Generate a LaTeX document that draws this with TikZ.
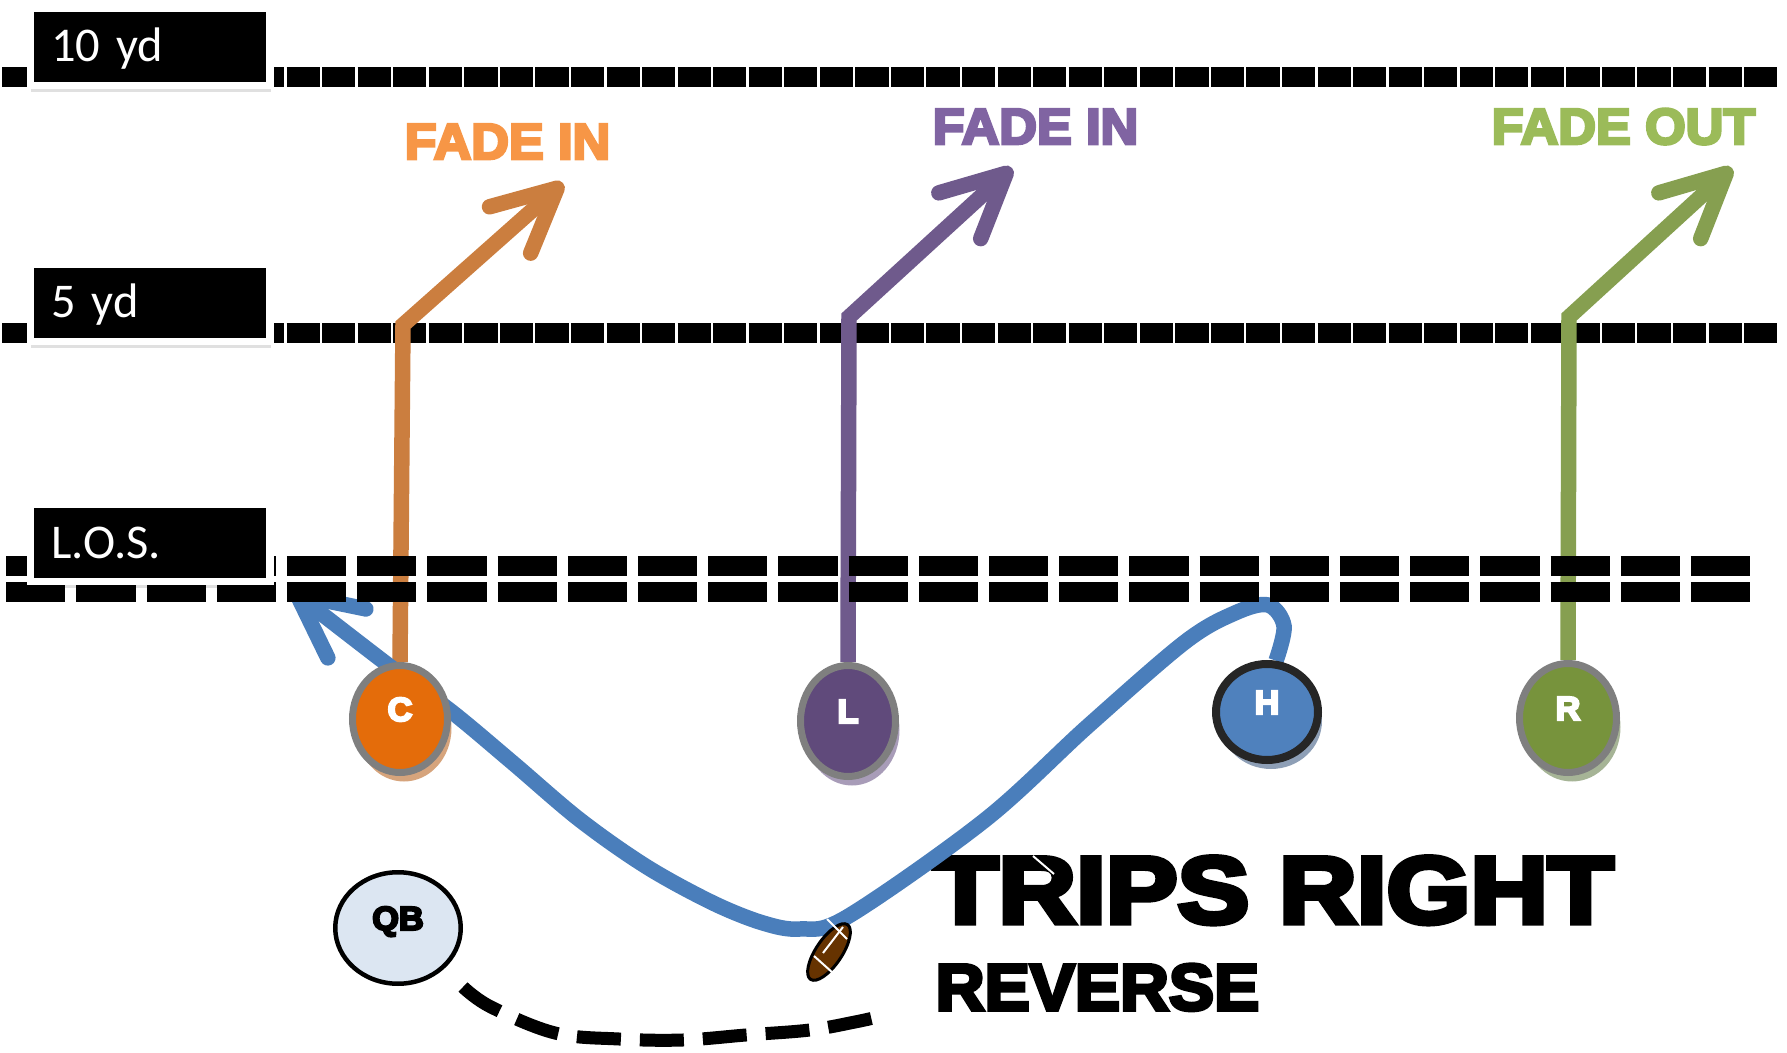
\documentclass[tikz,border=0pt]{standalone}
\usepackage{fontspec}
\setmainfont{Carlito}
\newfontfamily\heavyfont{Liberation Sans Bold}[FakeStretch=1.03]
\newcommand\thick[2]{\special{pdf:literal direct 2 Tr #1 w}#2\special{pdf:literal direct 0 Tr}}
\usetikzlibrary{shapes.geometric,arrows.meta,shadows}

\definecolor{bordergray}{HTML}{7F7F7F}
\definecolor{Ctext}{HTML}{F79646}
\definecolor{Croute}{HTML}{CB7E3F}
\definecolor{Cfill}{HTML}{E46C0A}
\definecolor{Cshade}{HTML}{D6A47C}
\definecolor{Ltext}{HTML}{8064A2}
\definecolor{Lroute}{HTML}{6F5A8C}
\definecolor{Lfill}{HTML}{604A7B}
\definecolor{Lshade}{HTML}{A89CB8}
\definecolor{Rtext}{HTML}{9BBB59}
\definecolor{Rroute}{HTML}{869F50}
\definecolor{Rfill}{HTML}{77933C}
\definecolor{Rshade}{HTML}{A6B496}
\definecolor{Hfill}{HTML}{4F81BD}
\definecolor{Hborder}{HTML}{262626}
\definecolor{Hshade}{HTML}{8E9FB6}
\definecolor{blueroute}{HTML}{4A7EBB}
\definecolor{QBfill}{HTML}{DCE6F2}
\definecolor{ballbrown}{HTML}{663300}

\pgfdeclarelayer{field}
\pgfdeclarelayer{routes}
\pgfdeclarelayer{los}
\pgfsetlayers{field,routes,los,main}

\begin{document}
\begin{tikzpicture} [
    x=0.1mm, y=-0.1mm,
    yardline/.style  = { line width=2mm, dash pattern=on 3.32mm off 0.235mm },
    losline/.style   = { line width=2mm, dash pattern=on 5.92mm off 1.1mm },
    ydbox/.style     = { rectangle, fill=black, draw=white, line width=0.75mm,
                         text=white, font=\fontsize{13.8}{16}\selectfont, align=left,
                         text width=19.8mm, inner xsep=2.075mm, inner ysep=0pt,
                         minimum height=7.75mm, text height=3mm, text depth=0pt,
                         drop shadow={shadow xshift=0.1mm, shadow yshift=-0.6mm,
                                      fill=black, opacity=.12} },
    player/.style    = { ellipse, draw=bordergray, line width=0.7mm, inner sep=0pt,
                         text=white, font=\heavyfont\fontsize{9.5}{10}\selectfont,
                         text height=2.4mm, text depth=2.0mm },
    castshadow/.style = { drop shadow={shadow xshift=0.4mm, shadow yshift=-0.9mm,
                                       fill=#1, opacity=1} },
    route/.style     = { draw=#1, line width=1.55mm,
                         -{Straight Barb[length=6.3mm,width=6.2mm,round]} },
    fadelabel/.style = { anchor=base west, inner sep=0pt, text=#1,
                         font=\heavyfont\fontsize{14.4}{16}\selectfont },
    lace/.style      = { draw=white, line width=0.2mm },
  ]
  \useasboundingbox (0,0) rectangle (1787,1053);

  % yard lines and titles
  \begin{pgfonlayer}{field}
    \draw[yardline] (2.2,77) -- (1778,77);
    \draw[yardline] (2.2,333) -- (1778,333);
    \node[ydbox] (tenbox) at (150,47) {10 yd};
    \node[ydbox] (fivebox) at (150,303) {5 yd};
    \node[anchor=base west, inner sep=0pt, font=\heavyfont\fontsize{27}{30}\selectfont]
      (title) at (932,923) {\thick{1.5}{\scalebox{1.1}[1]{TRIPS RIGHT}}};
    \node[anchor=base west, inner sep=0pt, font=\heavyfont\fontsize{18.7}{20}\selectfont]
      (subtitle) at (935,1010) {\thick{1}{REVERSE}};
  \end{pgfonlayer}

  \begin{pgfonlayer}{los}
    \draw[losline] (6.2,566) -- (1756,566);
    \draw[losline] (6.2,592) -- (1756,592);
    \node[ydbox] (losbox) at (150,543) {L.O.S.};
  \end{pgfonlayer}

  % players
  \node[player, fill=Cfill, castshadow=Cshade, minimum width=9.5mm, minimum height=10.7mm] (C) at (400,719) {\thick{.6}{C}};
  \node[player, fill=Lfill, castshadow=Lshade, minimum width=9.5mm, minimum height=11.1mm] (L) at (848,721) {\thick{.6}{L}};
  \node[player, fill=Hfill, castshadow=Hshade, draw=Hborder, line width=0.8mm,
        minimum width=10.2mm, minimum height=9.6mm] (H) at (1267,712) {\thick{.6}{H}};
  \node[player, fill=Rfill, castshadow=Rshade, minimum width=9.7mm, minimum height=10.9mm] (R) at (1568,718) {\thick{.6}{R}};
  \node[player, fill=QBfill, draw=black, line width=0.45mm, text=black,
        minimum width=12.55mm, minimum height=11.15mm] (QB) at (398,928) {\thick{.6}{QB}};

  % route labels
  \node[fadelabel=Ctext] (fadeC) at (404,159) {\thick{.8}{FADE IN}};
  \node[fadelabel=Ltext] (fadeL) at (932,144) {\thick{.8}{FADE IN}};
  \node[fadelabel=Rtext] (fadeR) at (1491,144) {\thick{.8}{FADE OUT}};

  \coordinate (Cturn) at (403,325);
  \coordinate (Cend) at (563,183);
  \coordinate (Lturn) at (849,317);
  \coordinate (Lend) at (1012,168);
  \coordinate (Rturn) at (1569,317);
  \coordinate (Rend) at (1732,168);
  \coordinate (Hend) at (291,590);

  % connect the routes
  \begin{pgfonlayer}{routes}
    \draw[route=Croute] (C.north) -- (Cturn) -- (Cend);
    \draw[route=Lroute] (L.north) -- (Lturn) -- (Lend);
    \draw[route=Rroute] (R.north) -- (Rturn) -- (Rend);
    \draw[route=blueroute] plot[smooth, tension=0.55] coordinates {
      (H.80) (1284,626) (1268,605) (1235,613) (1185,642) (1088,726) (985,820)
      (847,917) (800,929) (763,923) (713,903) (647,867) (580,820) (513,763)
      (452,712) (392,668) (Hend)};
  \end{pgfonlayer}

  % quarterback path and ball
  \draw[line width=1.3mm, dash pattern=on 4.4mm off 1.9mm] plot[smooth, tension=0.6] coordinates {
    (463,987) (491,1007) (555,1033) (619,1039) (683,1040) (746,1035) (810,1030) (855,1022) (882,1016)};
  \node[ellipse, fill=ballbrown, draw=black, line width=0.3mm, inner sep=0pt,
        minimum width=6.6mm, minimum height=2.6mm, rotate=56] (ball) at (829,952) {};
  \draw[lace] (823,953) -- (843,927);
  \draw[lace] (827,919) -- (847,939);
  \draw[lace] (814,956) -- (833,973);
  \draw[lace] (1033,856) -- (1054,874);
\end{tikzpicture}
\end{document}
